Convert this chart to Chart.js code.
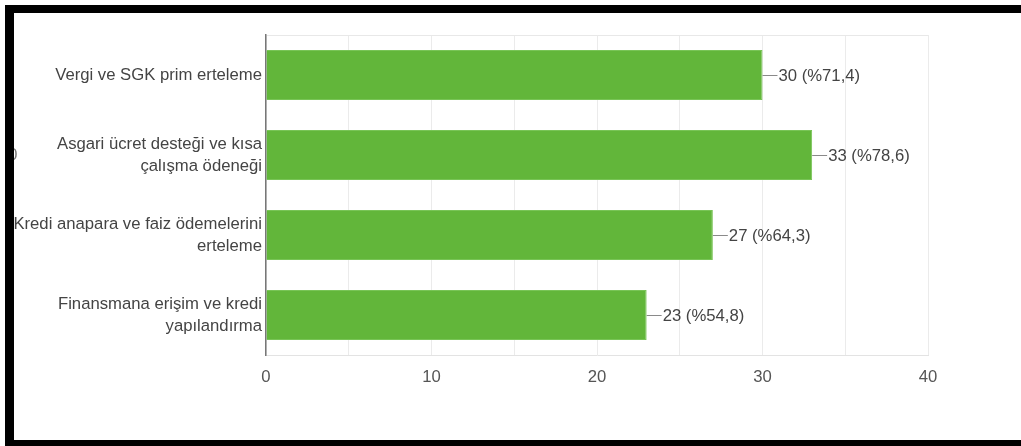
<!DOCTYPE html>
<html>
<head>
<meta charset="utf-8">
<script src="https://cdn.jsdelivr.net/npm/chart.js@4.4.0/dist/chart.umd.min.js"></script>
<style>
  html,body{margin:0;padding:0;background:#fff;overflow:hidden;}
  #wrap{position:relative;width:1021px;height:446px;}
  #myChart{position:absolute;left:0;top:0;}
  .frame{position:absolute;background:#000;z-index:3;}
  #cut{position:absolute;left:8px;top:145px;font:17px "Liberation Sans",Arial,sans-serif;color:#777;z-index:2;}
</style>
</head>
<body>
<div id="wrap">
  <canvas id="myChart" width="1021" height="446"></canvas>
  <div id="cut">0</div>
  <div class="frame" style="left:5px;top:5px;width:1016px;height:8px;"></div>
  <div class="frame" style="left:5px;top:5px;width:9px;height:441px;"></div>
  <div class="frame" style="left:5px;top:440px;width:1016px;height:6px;"></div>
</div>
<script>
// veriler
var labels = [
    ['Vergi ve SGK prim erteleme'],
    ['Asgari ücret desteği ve kısa', 'çalışma ödeneği'],
    ['Kredi anapara ve faiz ödemelerini', 'erteleme'],
    ['Finansmana erişim ve kredi', 'yapılandırma']
];
var counts = [30, 33, 27, 23];
var percents = ['71,4', '78,6', '64,3', '54,8'];
var xTicks = [0, 10, 20, 30, 40];

var FONT = '"Liberation Sans", Arial, sans-serif';
var FSIZE = 16.7;

// çubuk sonundaki etiketler
var valueLabels = {
    id: 'valueLabels',
    afterDatasetsDraw: function(chart){
        var ctx = chart.ctx;
        var meta = chart.getDatasetMeta(0);
        ctx.save();
        ctx.font = FSIZE + 'px ' + FONT;
        ctx.textBaseline = 'middle';
        ctx.textAlign = 'left';
        meta.data.forEach(function(bar, i){
            ctx.strokeStyle = '#8a8a8a';
            ctx.lineWidth = 1;
            ctx.beginPath();
            ctx.moveTo(bar.x, bar.y + 0.5);
            ctx.lineTo(bar.x + 15, bar.y + 0.5);
            ctx.stroke();
            ctx.fillStyle = '#444';
            ctx.fillText(counts[i] + ' (%' + percents[i] + ')', bar.x + 16, bar.y + 1);
        });
        ctx.restore();
    }
};

var ctx = document.getElementById('myChart');
var myChart = new Chart(ctx, {
    type: 'bar',
    data: {
        labels: labels,
        datasets: [{
            data: counts,
            backgroundColor: 'rgb(98,182,58)',
            borderColor: 'rgb(120,196,86)',
            borderWidth: 1,
            categoryPercentage: 1,
            barPercentage: 0.625
        }]
    },
    options: {
        indexAxis: 'y',
        responsive: false,
        animation: false,
        devicePixelRatio: 1,
        layout: {padding: {left: 0, top: 35, right: 93, bottom: 0}},
        plugins: {legend: {display: false}, tooltip: {enabled: false}},
        scales: {
            x: {
                min: 0,
                max: 40,
                afterBuildTicks: function(axis){
                    axis.ticks = [];
                    for (var v = 0; v <= 40; v += 5) axis.ticks.push({value: v});
                },
                afterFit: function(axis){ axis.height = 91; },
                grid: {color: '#ebebeb', drawTicks: false},
                border: {display: true, color: '#e3e3e3'},
                ticks: {
                    padding: 12,
                    color: '#555',
                    font: {family: FONT, size: FSIZE},
                    callback: function(v){ return xTicks.indexOf(v) >= 0 ? String(v) : ''; }
                }
            },
            y: {
                afterFit: function(axis){ axis.width = 266; },
                grid: {
                    offset: true,
                    drawTicks: false,
                    color: function(c){ return (c.index === 0 || c.index === labels.length) ? '#e8e8e8' : 'rgba(0,0,0,0)'; }
                },
                border: {display: true, color: '#777', width: 1.5},
                ticks: {
                    padding: 4,
                    color: '#444',
                    font: {family: FONT, size: FSIZE, lineHeight: 1.32}
                }
            }
        }
    },
    plugins: [valueLabels]
});
</script>
</body>
</html>
